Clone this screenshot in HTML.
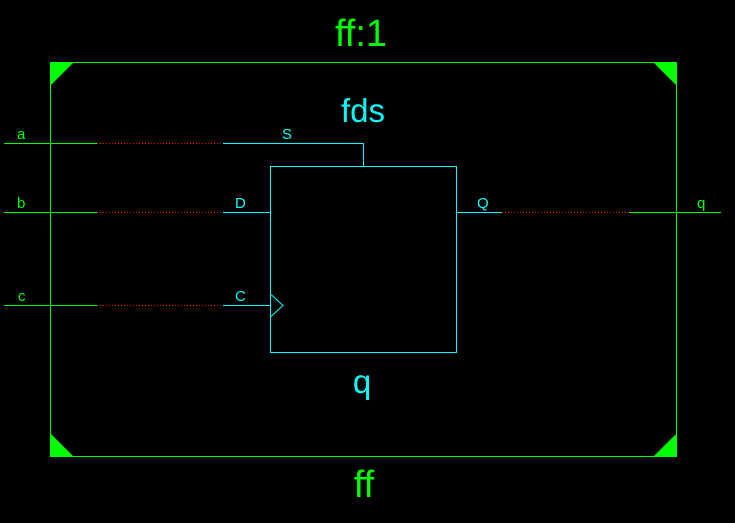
<!DOCTYPE html>
<html><head><style>
html,body{margin:0;padding:0;background:#000;}
svg{display:block;}
text{font-family:"Liberation Sans",sans-serif;}
</style></head><body>
<svg width="735" height="523" viewBox="0 0 735 523" xmlns="http://www.w3.org/2000/svg">
<rect width="735" height="523" fill="#000"/>
<g stroke="#00ff00" stroke-width="1.3" fill="none" shape-rendering="crispEdges">
<rect x="50.5" y="62.5" width="626" height="394"/>
<line x1="4" y1="143.5" x2="97" y2="143.5"/>
<line x1="4" y1="212.5" x2="97" y2="212.5"/>
<line x1="4" y1="305.5" x2="97" y2="305.5"/>
<line x1="629" y1="212.5" x2="721" y2="212.5"/>
</g>
<g fill="#00ff00">
<polygon points="50,62 74,62 50,86"/>
<polygon points="653,62 677,62 677,86"/>
<polygon points="50,433 50,457 74,457"/>
<polygon points="677,433 677,457 653,457"/>
</g>
<g stroke="#ff0000" stroke-width="1" stroke-dasharray="1,2" fill="none">
<line x1="97" y1="143.5" x2="223" y2="143.5"/>
<line x1="97" y1="212.5" x2="223" y2="212.5"/>
<line x1="97" y1="305.5" x2="223" y2="305.5"/>
<line x1="502" y1="212.5" x2="629" y2="212.5"/>
</g>
<g stroke="#00ffff" stroke-width="1" fill="none">
<rect x="270.5" y="166.5" width="186" height="186"/>
<polyline points="223,143.5 363.5,143.5 363.5,166"/>
<line x1="223" y1="212.5" x2="270" y2="212.5"/>
<line x1="223" y1="305.5" x2="270" y2="305.5"/>
<line x1="456" y1="212.5" x2="502" y2="212.5"/>
<polyline points="270.5,294 283,305.5 270.5,317"/>
</g>
<g fill="#00ff00" font-size="15">
<text x="17" y="139">a</text>
<text x="17" y="208">b</text>
<text x="18" y="301">c</text>
<text x="697" y="208">q</text>
</g>
<g fill="#00ffff" font-size="15">
<text x="282" y="139">S</text>
<text x="235" y="208">D</text>
<text x="235" y="301">C</text>
<text x="477" y="208">Q</text>
</g>
<text x="361" y="46" fill="#00ff00" font-size="38" text-anchor="middle">ff:1</text>
<text x="363" y="122" fill="#00ffff" font-size="33" text-anchor="middle">fds</text>
<text x="362" y="393" fill="#00ffff" font-size="33" text-anchor="middle">q</text>
<text x="364" y="497" fill="#00ff00" font-size="38" text-anchor="middle">ff</text>
</svg>
</body></html>
